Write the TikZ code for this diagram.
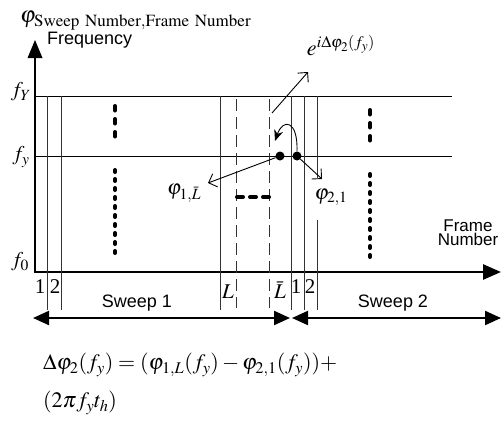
\documentclass[tikz,border=0pt]{standalone}
\usepackage{mathptmx}
\usepackage{fontspec}
\setmainfont{Liberation Serif}
\setsansfont{Liberation Sans}
\usetikzlibrary{arrows.meta,positioning}
\tikzset{
  gridline/.style={line width=0.8pt, draw=black!80},
  dashgrid/.style={gridline, dash pattern=on 12pt off 6pt},
  freqline/.style={line width=0.9pt},
  axisline/.style={line width=2.6pt, -{Triangle[length=18pt,width=15pt]}},
  dotcol/.style={line width=4pt, line cap=round, dash pattern=on 2pt off 7pt},
  dotcolwide/.style={dotcol, dash pattern=on 4.5pt off 8.5pt},
  dotrow/.style={line width=4pt, line cap=round, dash pattern=on 6pt off 7pt},
  phasedot/.style={circle, fill, inner sep=0pt, minimum size=9pt},
  openarr/.style={line width=0.9pt, -{Straight Barb[length=7pt,width=14pt]}},
  curvearr/.style={line width=0.9pt, -{Stealth[length=11pt,width=9pt]}},
  sweeparr/.style={line width=2.2pt,
    {Triangle[length=16pt,width=14pt]}-{Triangle[length=16pt,width=14pt]}},
  mathlab/.style={font=\fontsize{21}{24}\selectfont, inner sep=0pt},
  textlab/.style={font=\sffamily\fontsize{18}{20}\selectfont, inner sep=0pt}
}
\begin{document}
\begin{tikzpicture}[x=1pt,y=-1pt]
  \useasboundingbox (0,0) rectangle (502,423);
  % axes
  \draw[line width=2.6pt] (35,273.3) -- (35,56);
  \fill (35,40) -- (27.5,58) -- (42.5,58) -- cycle;
  \draw[axisline] (33.7,272) -- (501,272);
  % title
  \node[mathlab, font=\fontsize{23}{26}\selectfont, anchor=west] (phiname) at (20,21)
    {$\varphi_{\mathrm{Sweep\ Number,Frame\ Number}}$};
  % frequency levels and frame lines
  \draw[freqline] (35,96) -- (452,96);
  \draw[freqline] (35,156) -- (452,156);
  \foreach \gx in {47.5,61,220,291,304}
    \draw[gridline] (\gx,96) -- (\gx,310);
  \draw[gridline] (317,96) -- (317,178) (317,220) -- (317,310);
  \foreach \gx in {236.7,269.3}
    \draw[dashgrid] (\gx,99) -- (\gx,308);
  % skipped frames
  \draw[dotcolwide] (115,106) -- (115,137);
  \draw[dotcol] (115,170) -- (115,253);
  \draw[dotcolwide] (370,110) -- (370,141);
  \draw[dotcol] (370,174) -- (370,257);
  \draw[dotrow] (237,197) -- (269,197);
  \node[textlab, anchor=west] (freq) at (47,40.5) {Frequency};
  \node[textlab, font=\sffamily\fontsize{17}{14}\selectfont, align=center] (frame) at (468,233) {Frame\\Number};
  \node[mathlab] (fY) at (21,92) {$f_Y$};
  \node[mathlab] (fy) at (21,157) {$f_y$};
  \node[mathlab] (f0) at (20,262) {$f_0$};
  % frame numbers
  \node[mathlab] (firstA) at (40,287) {1};
  \node[mathlab] (secondA) at (55,287) {2};
  \node[mathlab] (lastA) at (228,292) {$L$};
  \node[mathlab] (lastbarA) at (280,290) {$\bar{L}$};
  \node[mathlab] (firstB) at (296,287) {1};
  \node[mathlab] (secondB) at (310,287) {2};
  % sweeps
  \node[textlab] (sweepone) at (137,303) {Sweep 1};
  \node[textlab] (sweeptwo) at (393,303) {Sweep 2};
  \coordinate (sweepAl) at (33,318);
  \coordinate (sweepAr) at (290,318);
  \coordinate (sweepBl) at (292,318);
  \coordinate (sweepBr) at (501,318);
  \draw[sweeparr] (sweepAl) -- (sweepAr);
  \draw[sweeparr] (sweepBl) -- (sweepBr);
  % phase points
  \node[phasedot] (dotL) at (280,156) {};
  \node[phasedot] (dotone) at (297,156) {};
  \node[mathlab] (philbar) at (184,193) {$\varphi_{1,\bar{L}}$};
  \node[mathlab] (phitwo) at (331,197) {$\varphi_{2,1}$};
  \node[mathlab, font=\fontsize{22}{24}\selectfont] (expo) at (341,46) {$e^{i\Delta\varphi_2(f_y)}$};
  \coordinate (philbartip) at (208,183);
  \coordinate (phitwotip) at (322,179);
  \coordinate (expostart) at (272,113);
  \coordinate (expotip) at (308,72);
  \draw[openarr] (dotL) -- (philbartip);
  \draw[openarr] (dotone) -- (phitwotip);
  \draw[openarr] (expostart) -- (expotip);
  \draw[curvearr] (dotone.north) .. controls (298,120) and (283,118) .. (275,141);
  % phase correction
  \node[mathlab, font=\fontsize{22}{24}\selectfont, anchor=west] (eqone) at (43,365)
    {$\Delta\varphi_2(f_y) = (\varphi_{1,L}(f_y) - \varphi_{2,1}(f_y)) +$};
  \node[mathlab, font=\fontsize{22}{24}\selectfont, anchor=west] (eqtwo) at (43,403) {$(2\pi f_y t_h)$};
\end{tikzpicture}
\end{document}
